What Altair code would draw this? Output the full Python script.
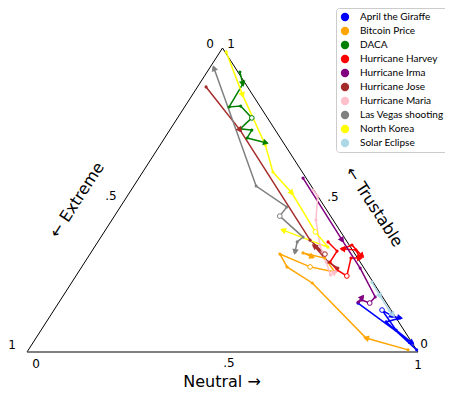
import math
import altair as alt
import pandas as pd

series_names = ["April the Giraffe", "Bitcoin Price", "DACA", "Hurricane Harvey",
                "Hurricane Irma", "Hurricane Jose", "Hurricane Maria",
                "Las Vegas shooting", "North Korea", "Solar Eclipse"]
series_colors = ["blue", "orange", "green", "red", "purple", "brown", "pink",
                 "gray", "yellow", "lightblue"]

# ternary shares per step: neutral and trustable (extreme = 1 - neutral - trustable)
april_neutral = [0.766, 0.970, 0.908, 0.839, 0.875, 0.898, 0.869, 0.993]
april_trust = [0.161, 0.030, 0.072, 0.138, 0.118, 0.112, 0.099, 0.007]
bitcoin_neutral = [0.971, 0.844, 0.616, 0.525, 0.486, 0.584, 0.656, 0.607, 0.543, 0.573]
bitcoin_trust = [0.007, 0.046, 0.227, 0.280, 0.322, 0.280, 0.263, 0.309, 0.326, 0.313]
daca_neutral = [0.084, 0.111, 0.114, 0.142, 0.190, 0.178, 0.210, 0.211, 0.267]
daca_trust = [0.921, 0.882, 0.806, 0.809, 0.770, 0.734, 0.730, 0.704, 0.688]
harvey_neutral = [0.589, 0.627, 0.627, 0.658, 0.693, 0.674, 0.697, 0.673, 0.637, 0.655, 0.699]
harvey_trust = [0.362, 0.332, 0.296, 0.270, 0.250, 0.309, 0.309, 0.336, 0.339, 0.352, 0.316]
irma_neutral = [0.420, 0.622, 0.714, 0.800, 0.796, 0.771, 0.765, 0.767]
irma_trust = [0.572, 0.368, 0.276, 0.181, 0.161, 0.171, 0.164, 0.181]
jose_neutral = [0.022, 0.180, 0.540, 0.601, 0.560, 0.622, 0.657]
jose_trust = [0.872, 0.730, 0.368, 0.322, 0.349, 0.296, 0.276]
maria_neutral = [0.465, 0.487, 0.522, 0.573, 0.617, 0.650, 0.656]
maria_trust = [0.533, 0.513, 0.434, 0.352, 0.296, 0.253, 0.263]
vegas_neutral = [0.011, 0.313, 0.426, 0.423, 0.517, 0.510, 0.521]
vegas_trust = [0.934, 0.546, 0.477, 0.447, 0.378, 0.362, 0.329]
korea_neutral = [0.016, 0.129, 0.269, 0.333, 0.416, 0.540, 0.597, 0.454]
korea_trust = [0.987, 0.845, 0.681, 0.592, 0.523, 0.395, 0.345, 0.401]
eclipse_neutral = [0.767, 0.811, 0.857, 0.875]
eclipse_trust = [0.230, 0.184, 0.138, 0.122]

all_neutral = [april_neutral, bitcoin_neutral, daca_neutral, harvey_neutral, irma_neutral,
               jose_neutral, maria_neutral, vegas_neutral, korea_neutral, eclipse_neutral]
all_trust = [april_trust, bitcoin_trust, daca_trust, harvey_trust, irma_trust,
             jose_trust, maria_trust, vegas_trust, korea_trust, eclipse_trust]
# steps that carry a direction arrow, and the step with an open circle
arrow_steps = [[1, 4, 5], [1, 9], [1, 8], [6, 8, 10], [1, 7], [1, 4], [6], [0, 6], [1, 4, 7], [1, 3]]
circle_step = [3, 5, 4, 4, 4, 3, -1, 3, 5, -1]

W, H = 391, 304
FONT = "DejaVu Sans"
LEG_FONT = "Lato"

rows, arrows, circles = [], [], []
for name, ns, ts, arr, circ in zip(series_names, all_neutral, all_trust, arrow_steps, circle_step):
    xs = [n + t / 2 for n, t in zip(ns, ts)]
    ys = list(ts)
    for i, (x, y) in enumerate(zip(xs, ys)):
        rows.append(dict(series=name, step=i, x=x, y=y))
    for i in arr:
        j = i - 1 if i > 0 else 1
        dx = (xs[i] - xs[j]) * W
        dy = -(ys[i] - ys[j]) * H
        ang = math.degrees(math.atan2(dx, -dy)) % 360
        arrows.append(dict(series=name, x=xs[i], y=ys[i], angle=ang))
    if circ >= 0:
        circles.append(dict(series=name, x=xs[circ], y=ys[circ]))

df = pd.DataFrame(rows)
df_arrows = pd.DataFrame(arrows)
df_circles = pd.DataFrame(circles)

xs_ = alt.Scale(domain=[0, 1], nice=False, zero=False)
ys_ = alt.Scale(domain=[0, 1], nice=False, zero=False)
cs_ = alt.Scale(domain=series_names, range=series_colors)

# triangle frame from the ternary corners (neutral, trustable)
frame = pd.DataFrame({"n": [1, 0, 0], "t": [0, 1, 0], "o": [0, 1, 2]})
frame["x"] = frame["n"] + frame["t"] / 2
frame["y"] = frame["t"]
base_df = pd.DataFrame({"x": [0, 1], "y": [0, 0], "o": [0, 1]})

X = alt.X("x:Q", scale=xs_, axis=None)
Y = alt.Y("y:Q", scale=ys_, axis=None)
C_none = alt.Color("series:N", scale=cs_, legend=None)

frame_layer = alt.Chart(frame).mark_line(color="black", strokeWidth=1).encode(x=X, y=Y, order="o:O")
base_layer = alt.Chart(base_df).mark_line(color="#555555", strokeWidth=1.6).encode(x=X, y=Y, order="o:O")

lines = alt.Chart(df).mark_line(strokeWidth=1.5).encode(
    x=X, y=Y, color=C_none, detail="series:N", order="step:Q")

dots = alt.Chart(df).mark_circle(size=10, opacity=1).encode(x=X, y=Y, color=C_none)

opens = alt.Chart(df_circles).mark_point(shape="circle", size=22, fill="white", filled=False,
                                         strokeWidth=1, opacity=1).encode(x=X, y=Y, color=C_none)

heads = alt.Chart(df_arrows).mark_point(shape="triangle-up", size=45, filled=True, opacity=1).encode(
    x=X, y=Y, angle=alt.Angle("angle:Q", scale=None), color=C_none)

legend_df = pd.DataFrame({"series": series_names})
legend_layer = alt.Chart(legend_df).mark_circle(size=0, opacity=1).encode(
    x=alt.value(-100), y=alt.value(-100),
    color=alt.Color("series:N", scale=cs_, sort=series_names, legend=alt.Legend(
        orient="none", legendX=309, legendY=-40, title=None,
        labelFont=LEG_FONT, labelFontSize=10, labelColor="black",
        symbolType="circle", symbolSize=70, symbolOpacity=1,
        strokeColor="#cccccc", fillColor="white", padding=4, cornerRadius=3,
        rowPadding=4, labelOffset=10, labelLimit=200)))

labels = pd.DataFrame([
    dict(t="0", px=183, py=-4, a=0, s=12),
    dict(t="1", px=204, py=-4, a=0, s=12),
    dict(t=".5", px=84, py=148, a=0, s=12),
    dict(t="1", px=-15, py=297, a=0, s=12),
    dict(t="0", px=9, py=316, a=0, s=12),
    dict(t=".5", px=202, py=315, a=0, s=12),
    dict(t="1", px=391, py=317, a=0, s=12),
    dict(t=".5", px=306, py=149, a=0, s=12),
    dict(t="0", px=397, py=296, a=0, s=12),
    dict(t="Neutral \u2192", px=195, py=334, a=0, s=16),
    dict(t="\u2190 Extreme", px=50, py=152, a=303, s=16),
    dict(t="\u2190 Trustable", px=347, py=159, a=57, s=16),
])
texts = alt.Chart(labels).mark_text(font=FONT, color="black", baseline="middle", align="center").encode(
    x=alt.X("px:Q", scale=None), y=alt.Y("py:Q", scale=None),
    text="t:N", angle=alt.Angle("a:Q", scale=None), size=alt.Size("s:Q", scale=None))

chart = alt.layer(frame_layer, base_layer, lines, dots, opens, heads, texts, legend_layer).resolve_scale(
    color="independent").properties(
    width=W, height=H,
    autosize=alt.AutoSizeParams(type="none"),
    padding={"left": 19, "top": 40, "right": 27, "bottom": 40},
).configure_view(stroke=None)

chart.save("out.html", embed_options={"renderer": "svg", "actions": False})
